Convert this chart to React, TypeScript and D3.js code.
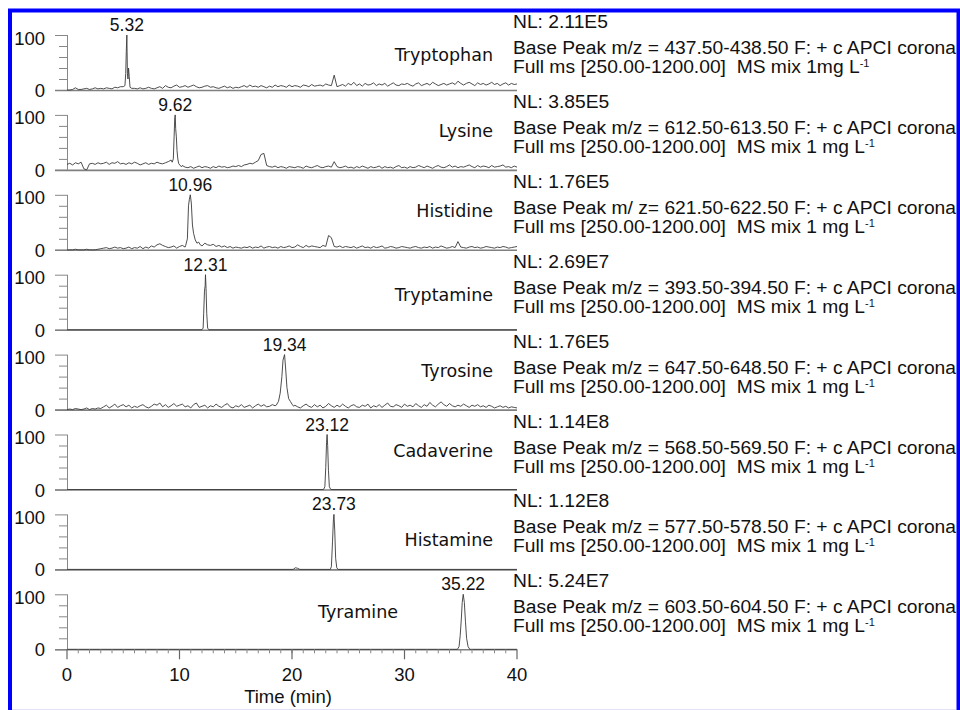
import React, { useEffect, useRef } from 'react';
import * as d3 from 'd3';

const compounds = ['Tryptophan', 'Lysine', 'Histidine', 'Tryptamine', 'Tyrosine', 'Cadaverine', 'Histamine', 'Tyramine'];
const peakTimes = ['5.32', '9.62', '10.96', '12.31', '19.34', '23.12', '23.73', '35.22'];
const nlValues = ['2.11E5', '3.85E5', '1.76E5', '2.69E7', '1.76E5', '1.14E8', '1.12E8', '5.24E7'];
const massRanges = [
  'm/z = 437.50-438.50', 'm/z = 612.50-613.50', 'm/ z= 621.50-622.50', 'm/z = 393.50-394.50',
  'm/z = 647.50-648.50', 'm/z = 568.50-569.50', 'm/z = 577.50-578.50', 'm/z = 603.50-604.50',
];
const mixAmounts = ['1mg', '1 mg', '1 mg', '1 mg', '1 mg', '1 mg', '1 mg', '1 mg'];
const xTicks = [0, 10, 20, 30, 40];
const yTicks = [0, 20, 40, 60, 80, 100];

// base peak noise, one value every 0.25 min from 0 to 40
const tryptophanNoise = [
  0, 0, 1, 4, 1, 1, 2, 3, 1, 2, 4, 2, 3, 2, 4, 3, 2, 5, 4, 6, 7,
  30, 40, 8, 3, 2, 4, 2, 3, 5, 3, 2, 4, 6, 3, 8, 5, 4, 7, 9, 5,
  6, 8, 5, 7, 9, 6, 4, 5, 7, 8, 5, 6, 4, 3, 5, 7, 4, 6, 3, 5,
  4, 6, 8, 5, 9, 6, 7, 5, 8, 6, 4, 7, 5, 9, 6, 8, 7, 5, 9, 6,
  8, 7, 5, 9, 8, 6, 10, 7, 8, 9, 7, 11, 9, 8, 27, 6, 8, 10, 7, 12,
  9, 14, 8, 11, 7, 12, 9, 10, 13, 8, 11, 9, 12, 7, 10, 13, 9, 8, 11, 10,
  12, 9, 7, 11, 13, 8, 10, 12, 9, 14, 11, 8, 10, 12, 9, 11, 13, 10, 16, 12,
  9, 12, 14, 11, 8, 13, 10, 12, 9, 11, 14, 10, 12, 8, 11, 13, 9, 12, 10, 11,
];
const lysineNoise = [
  10, 12, 9, 13, 11, 14, 2, 0, 11, 12, 10, 13, 11, 12, 14, 10, 13, 12, 15, 11, 12,
  10, 13, 11, 14, 12, 9, 11, 13, 10, 12, 11, 14, 12, 11, 13, 15, 18, 40, 100, 50,
  8, 5, 4, 6, 3, 5, 7, 4, 6, 5, 3, 6, 4, 7, 5, 6, 4, 5, 7, 6,
  8, 6, 9, 10, 12, 11, 14, 17, 28, 30, 8, 6, 5, 7, 4, 6, 5, 3, 6, 5,
  4, 6, 5, 3, 7, 5, 4, 6, 8, 5, 4, 6, 7, 5, 15, 6, 4, 5, 7, 4,
  5, 3, 6, 4, 7, 5, 3, 6, 4, 5, 7, 3, 6, 4, 5, 3, 6, 8, 4, 5,
  3, 6, 4, 5, 8, 6, 4, 7, 5, 3, 6, 8, 5, 4, 6, 9, 5, 7, 4, 6,
  5, 7, 9, 6, 4, 8, 5, 7, 6, 4, 8, 5, 6, 7, 9, 5, 6, 4, 7, 5,
];
const histidineNoise = [
  0, 0, 0, 1, 0, 0, 0, 1, 0, 0, 0, 1, 2, 3, 4, 2, 3, 5, 3, 4, 2,
  3, 5, 2, 4, 3, 6, 2, 5, 3, 7, 5, 9, 11, 8, 6, 4, 5, 7, 3, 6,
  8, 5, 6, 20, 85, 100, 45, 20, 12, 9, 8, 10, 6, 8, 5, 7, 4, 6, 3, 5,
  4, 3, 5, 4, 6, 3, 5, 4, 7, 3, 5, 6, 4, 5, 3, 6, 4, 5, 7, 4,
  5, 9, 6, 4, 8, 5, 7, 6, 5, 4, 8, 6, 26, 22, 6, 5, 7, 4, 6, 5,
  4, 6, 3, 5, 7, 4, 5, 3, 6, 4, 5, 7, 3, 4, 6, 5, 3, 4, 6, 5,
  4, 3, 5, 6, 4, 3, 5, 4, 6, 3, 5, 4, 7, 5, 3, 4, 6, 4, 15, 5,
  4, 3, 5, 6, 4, 5, 3, 4, 6, 5, 4, 3, 5, 4, 6, 5, 3, 4, 5, 6,
];
const tyrosineNoise = [
  0, 1, 0, 2, 1, 0, 1, 3, 0, 2, 1, 3, 2, 5, 8, 3, 6, 10, 4, 7, 9,
  5, 8, 3, 6, 4, 7, 9, 5, 3, 6, 10, 8, 12, 5, 9, 4, 7, 11, 6, 8,
  10, 5, 7, 3, 9, 12, 4, 6, 8, 3, 7, 5, 10, 6, 4, 8, 11, 5, 3, 7,
  5, 9, 4, 6, 8, 3, 7, 10, 6, 9, 5, 6, 9, 7, 8, 5, 7, 4, 9, 6,
  8, 5, 3, 7, 10, 6, 4, 9, 5, 8, 3, 6, 11, 7, 4, 8, 5, 10, 6, 3,
  7, 9, 5, 4, 8, 6, 10, 3, 7, 5, 9, 4, 8, 12, 6, 5, 9, 7, 4, 10,
  6, 8, 5, 11, 7, 4, 9, 6, 13, 8, 5, 10, 14, 9, 6, 11, 7, 5, 8, 6,
  10, 7, 4, 8, 6, 9, 5, 7, 4, 8, 6, 3, 5, 7, 4, 6, 3, 5, 4, 3,
];

// peak shapes as [time, relative abundance]
const tryptophanPeak = [[5.0, 6], [5.15, 8], [5.22, 30], [5.27, 70], [5.32, 100], [5.37, 30], [5.42, 20], [5.47, 40], [5.53, 25], [5.6, 5], [5.75, 3]];
const lysinePeak = [[9.35, 14], [9.45, 20], [9.52, 60], [9.58, 95], [9.62, 100], [9.66, 75], [9.72, 60], [9.78, 35], [9.85, 20], [9.92, 12], [10.05, 8], [10.2, 6]];
const histidinePeak = [[10.55, 8], [10.7, 20], [10.8, 80], [10.88, 92], [10.96, 100], [11.05, 85], [11.15, 45], [11.25, 30], [11.4, 18], [11.55, 12], [11.7, 14], [11.85, 9], [12.0, 7]];
const tyrosinePeak = [[18.6, 8], [18.8, 15], [18.95, 30], [19.1, 60], [19.2, 90], [19.34, 100], [19.45, 70], [19.55, 40], [19.7, 20], [19.85, 15], [20.0, 10], [20.15, 6]];
const tryptamineTrace = [[0, 0], [12.0, 0], [12.1, 3], [12.15, 30], [12.22, 70], [12.28, 80], [12.31, 100], [12.36, 75], [12.42, 30], [12.5, 3], [12.6, 0], [40, 0]];
const cadaverineTrace = [[0, 0], [22.8, 0], [22.92, 5], [23.0, 40], [23.07, 85], [23.12, 100], [23.17, 80], [23.24, 35], [23.32, 5], [23.45, 0], [40, 0]];
const histamineTrace = [[0, 0], [20.1, 0], [20.3, 3], [20.5, 2], [20.7, 0], [23.4, 0], [23.5, 5], [23.6, 50], [23.68, 90], [23.73, 100], [23.8, 70], [23.88, 20], [23.98, 3], [24.1, 0], [40, 0]];
const tyramineTrace = [[0, 0], [34.7, 0], [34.85, 5], [34.95, 25], [35.05, 55], [35.13, 85], [35.22, 100], [35.32, 85], [35.42, 50], [35.52, 20], [35.65, 5], [35.8, 0], [40, 0]];

const withPeak = (noise: number[], peak: number[][]) => {
  const t0 = peak[0][0];
  const t1 = peak[peak.length - 1][0];
  return noise
    .map((v, i) => [i * 0.25, v])
    .filter(([t]) => t < t0 || t > t1)
    .concat(peak)
    .sort((a, b) => a[0] - b[0]);
};

const traces = [
  withPeak(tryptophanNoise, tryptophanPeak),
  withPeak(lysineNoise, lysinePeak),
  withPeak(histidineNoise, histidinePeak),
  tryptamineTrace,
  withPeak(tyrosineNoise, tyrosinePeak),
  cadaverineTrace,
  histamineTrace,
  tyramineTrace,
];

// compound name placement: right edge and drop below the 100 line
const nameRight = [493, 493, 493, 493, 493, 493, 493, 398];
const nameDrop = [26, 22, 22, 26, 22, 22, 32, 24];

const Chart = () => {
  const ref = useRef<SVGSVGElement>(null);

  useEffect(() => {
    const svg = d3.select(ref.current);
    svg.selectAll('*').remove();

    const sans = '"Liberation Sans", Arial, sans-serif';
    const x = d3.scaleLinear().domain([0, 40]).range([67, 517]);
    const step = 79.9;
    const ph = 55;

    svg.append('rect').attr('width', 960).attr('height', 710).attr('fill', '#fff');

    compounds.forEach((name, i) => {
      const y0 = 90 + i * step;
      const y = d3.scaleLinear().domain([0, 100]).range([y0, y0 - ph]);
      const g = svg.append('g');

      // y axis
      g.append('line').attr('x1', 67.5).attr('x2', 67.5).attr('y1', y(100)).attr('y2', y0)
        .attr('stroke', '#888').attr('stroke-width', 1);
      g.selectAll('.yt').data(yTicks).enter().append('line')
        .attr('x1', d => (d === 0 || d === 100 ? 55 : 59)).attr('x2', 67)
        .attr('y1', d => y(d) + 0.5).attr('y2', d => y(d) + 0.5)
        .attr('stroke', '#888').attr('stroke-width', 1);
      g.append('text').attr('x', 45).attr('y', y(100) + 9.5).attr('text-anchor', 'end')
        .attr('font-family', sans).attr('font-size', 18.5).attr('fill', '#111').text('100');
      g.append('text').attr('x', 45).attr('y', y0 + 7).attr('text-anchor', 'end')
        .attr('font-family', sans).attr('font-size', 18.5).attr('fill', '#111').text('0');

      // baseline
      g.append('line').attr('x1', 55).attr('x2', 517).attr('y1', y0 + 0.5).attr('y2', y0 + 0.5)
        .attr('stroke', '#808080').attr('stroke-width', 1.6);

      // trace
      const line = d3.line<number[]>().x(d => x(d[0])).y(d => y(d[1]));
      g.append('path').datum(traces[i]).attr('d', line)
        .attr('fill', 'none').attr('stroke', '#3a3a3a').attr('stroke-width', 0.9);

      // peak label
      g.append('text').attr('x', x(+peakTimes[i])).attr('y', y(100) - 4).attr('text-anchor', 'middle')
        .attr('font-family', sans).attr('font-size', 17.5).attr('fill', '#111').text(peakTimes[i]);

      // compound label
      g.append('text').attr('x', nameRight[i]).attr('y', y(100) + nameDrop[i]).attr('text-anchor', 'end')
        .attr('font-family', '"DejaVu Sans", sans-serif').attr('font-size', 17.5).attr('fill', '#111').text(name);

      // scan info
      const info = g.append('g').attr('font-family', sans).attr('font-size', 19.25).attr('fill', '#111');
      info.append('text').attr('x', 513).attr('y', y0 - 62).text(`NL: ${nlValues[i]}`);
      info.append('text').attr('x', 513).attr('y', y0 - 36).text(`Base Peak ${massRanges[i]} F: + c APCI corona`);
      const full = info.append('text').attr('x', 513).attr('y', y0 - 17).style('white-space', 'pre');
      full.append('tspan').text(`Full ms [250.00-1200.00]  MS mix ${mixAmounts[i]} L`);
      full.append('tspan').attr('font-size', 11).attr('dy', -6).text('-1');
    });

    // bottom time axis
    const yb = 90 + 7 * step;
    const axis = svg.append('g');
    axis.selectAll('.minor').data(d3.range(1, 40)).enter().append('line')
      .attr('x1', d => x(d)).attr('x2', d => x(d)).attr('y1', yb).attr('y2', yb + 4)
      .attr('stroke', '#888').attr('stroke-width', 1);
    axis.selectAll('.major').data(xTicks).enter().append('line')
      .attr('x1', d => x(d)).attr('x2', d => x(d)).attr('y1', yb).attr('y2', yb + 10)
      .attr('stroke', '#666').attr('stroke-width', 1.2);
    axis.selectAll('.lab').data(xTicks).enter().append('text')
      .attr('x', d => x(d)).attr('y', yb + 32).attr('text-anchor', 'middle')
      .attr('font-family', sans).attr('font-size', 18.5).attr('fill', '#111').text(d => d);
    axis.append('text').attr('x', 288).attr('y', yb + 54).attr('text-anchor', 'middle')
      .attr('font-family', sans).attr('font-size', 18.5).attr('fill', '#111').text('Time (min)');

    // frame
    svg.append('line').attr('x1', 12).attr('x2', 956).attr('y1', 709.5).attr('y2', 709.5)
      .attr('stroke', '#e4e2f6').attr('stroke-width', 1);
    svg.append('path').attr('d', 'M10,710 V10.5 H958.5 V710')
      .attr('fill', 'none').attr('stroke', '#0000ff').attr('stroke-width', 4);
  }, []);

  return (
    <svg ref={ref} width={960} height={710}
      style={{ position: 'absolute', left: 0, top: 0, display: 'block' }} />
  );
};

export default function App() {
  return <Chart />;
}
